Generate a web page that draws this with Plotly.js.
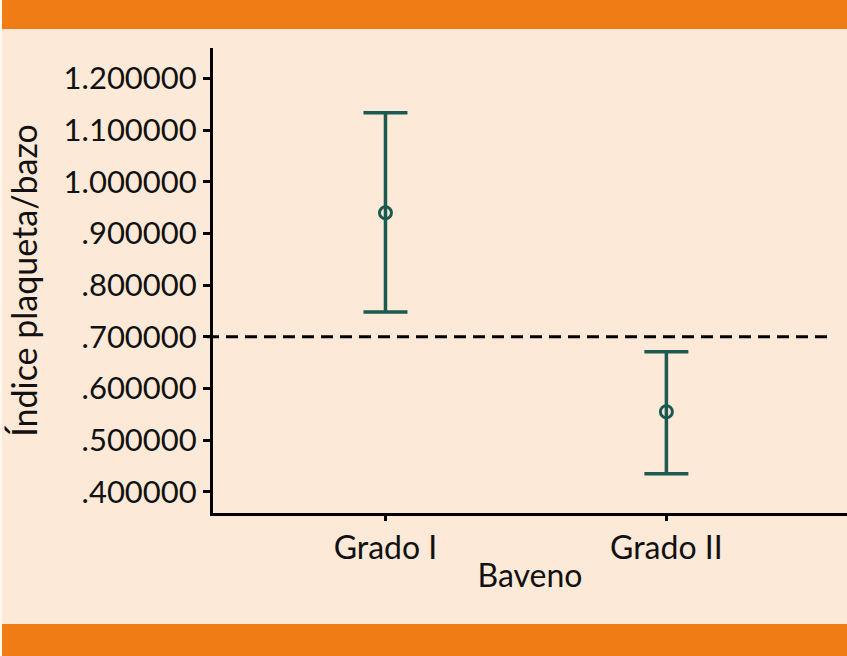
<!DOCTYPE html>
<html>
<head>
<meta charset="utf-8">
<script src="https://cdn.plot.ly/plotly-3.0.1.min.js"></script>
<style>
html,body{margin:0;padding:0;background:#fde9d7;}
#chart{width:847px;height:656px;}
</style>
</head>
<body>
<div id="chart"></div>
<script>
// Data
const categories = ["Grado I", "Grado II"];
const means = [0.940, 0.555];
const upper = [1.1335, 0.671];
const lower = [0.748, 0.435];
const refLine = 0.7;
const yTickVals = [0.4, 0.5, 0.6, 0.7, 0.8, 0.9, 1.0, 1.1, 1.2];
const yTickText = [".400000", ".500000", ".600000", ".700000", ".800000", ".900000", "1.000000", "1.100000", "1.200000"];

const W = 847, H = 656;
const M = {l: 213, r: 0, t: 48, b: 143};
const plotW = W - M.l - M.r, plotH = H - M.t - M.b;
const px2x = p => (p - M.l) / plotW;
const py2y = p => (H - M.b - p) / plotH;

const xIdx = categories.map((c, i) => i);
const errPlus = upper.map((u, i) => u - means[i]);
const errMinus = lower.map((l, i) => means[i] - l);

const teal = "#1b5a50";
const orange = "#ef7c14";
const peach = "#fde9d7";

const trace = {
  type: "scatter",
  mode: "markers",
  x: xIdx,
  y: means,
  marker: {symbol: "circle-open", size: 12, color: teal, line: {width: 3, color: teal}},
  error_y: {type: "data", symmetric: false, array: errPlus, arrayminus: errMinus,
            color: teal, thickness: 3.5, width: 22},
  hoverinfo: "skip",
  showlegend: false
};

const font = {family: "Lato, 'Open Sans', sans-serif", color: "#111111", size: 30};

const layout = {
  width: W, height: H,
  margin: M,
  paper_bgcolor: peach,
  plot_bgcolor: peach,
  font: font,
  showlegend: false,
  xaxis: {
    range: [-0.614, 1.643],
    tickvals: xIdx,
    ticktext: categories,
    ticks: "outside", ticklen: 5, tickwidth: 3, tickcolor: "#000",
    showline: true, linecolor: "#000", linewidth: 3,
    showgrid: false, zeroline: false,
    tickfont: {size: 32},
    title: {text: "Baveno", font: {size: 32}, standoff: 0},
    automargin: false
  },
  yaxis: {
    range: [0.359, 1.259],
    tickvals: yTickVals,
    ticktext: yTickText,
    ticks: "outside", ticklen: 7, tickwidth: 3, tickcolor: "#000",
    showline: true, linecolor: "#000", linewidth: 3,
    showgrid: false, zeroline: false,
    tickfont: {size: 31},
    title: {text: "Índice plaqueta/bazo", font: {size: 34}, standoff: 16},
    automargin: false
  },
  shapes: [
    {type: "rect", xref: "paper", yref: "paper", x0: px2x(0), x1: px2x(W), y0: py2y(29), y1: py2y(0),
     fillcolor: orange, line: {width: 0}, layer: "above"},
    {type: "rect", xref: "paper", yref: "paper", x0: px2x(0), x1: px2x(W), y0: py2y(H), y1: py2y(624),
     fillcolor: orange, line: {width: 0}, layer: "above"},
    {type: "rect", xref: "paper", yref: "paper", x0: px2x(0), x1: px2x(2), y0: py2y(H), y1: py2y(0),
     fillcolor: "#fff6ee", line: {width: 0}, layer: "above"},
    {type: "line", xref: "paper", yref: "y", x0: px2x(207), x1: px2x(831), y0: refLine, y1: refLine,
     line: {color: "#000", width: 3, dash: "12px,7px"}}
  ]
};

Plotly.newPlot("chart", [trace], layout, {displayModeBar: false, staticPlot: true});
</script>
</body>
</html>
